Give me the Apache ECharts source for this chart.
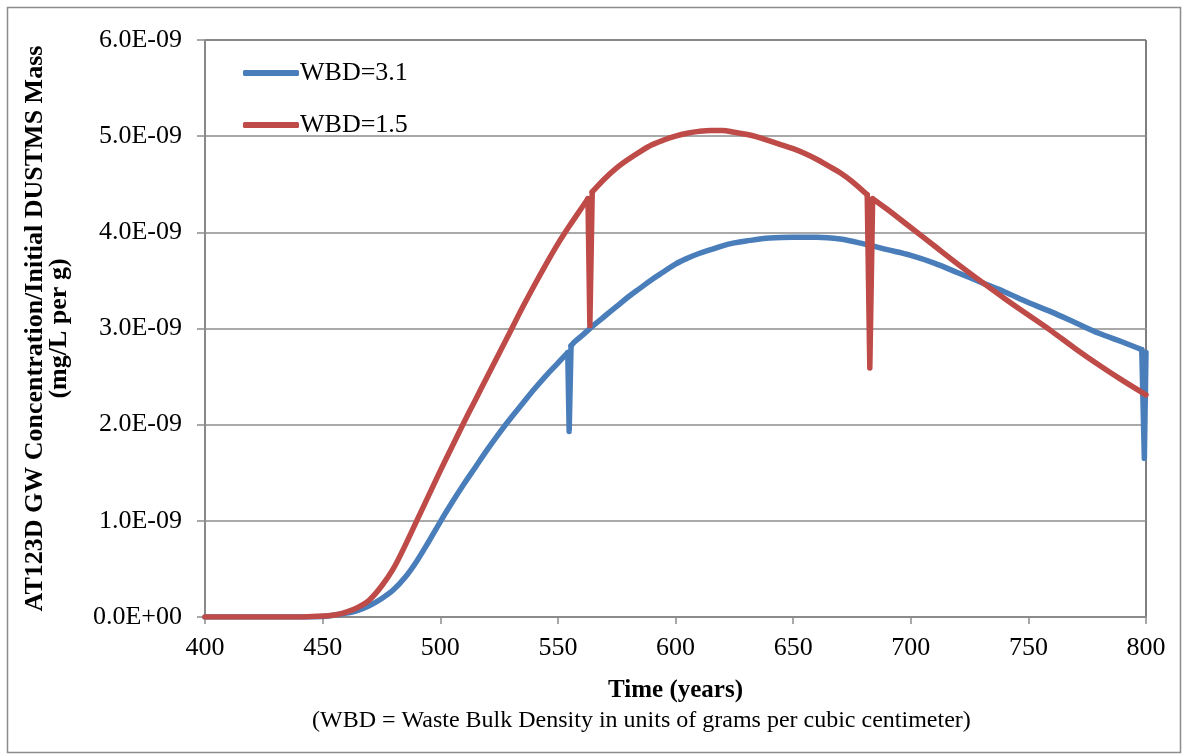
<!DOCTYPE html>
<html><head><meta charset="utf-8">
<script src="https://cdn.jsdelivr.net/npm/echarts@6/dist/echarts.min.js"></script>
<style>html,body{margin:0;padding:0;background:#fff}#c{width:1183px;height:755px}</style>
</head><body><div id="c"></div>
<script>
// values in units of 1E-09 mg/L per g
const blueX = [400,440,450,455,460,465,470,475,480,485,490,495,500,505,510,515,520,525,530,535,540,545,550,554.2,554.8,555.6,557,560,565,570,575,580,585,590,595,600,605,610,615,620,625,630,640,650,660,670,680,690,700,710,720,730,740,750,760,770,780,790,798.2,799.3,800];
const blueY = [0,0,0.005,0.02,0.04,0.07,0.12,0.19,0.28,0.41,0.58,0.78,0.99,1.19,1.38,1.56,1.74,1.91,2.07,2.22,2.37,2.51,2.64,2.75,1.93,2.82,2.86,2.92,3.03,3.13,3.23,3.33,3.42,3.51,3.59,3.67,3.73,3.78,3.82,3.86,3.89,3.91,3.94,3.95,3.95,3.93,3.88,3.82,3.76,3.68,3.58,3.48,3.38,3.27,3.17,3.06,2.95,2.86,2.78,1.65,2.75];
const redX = [400,440,450,455,460,465,470,475,480,485,490,495,500,505,510,515,520,525,530,535,540,545,550,555,560,562.8,563.6,564.6,570,575,580,585,590,595,600,605,610,615,620,625,630,635,640,645,650,655,660,665,670,675,681.5,682.6,683.8,690,700,710,720,731,740,750,760,770,780,790,800];
const redY = [0,0,0.01,0.02,0.05,0.1,0.18,0.32,0.5,0.74,1.0,1.26,1.52,1.77,2.02,2.26,2.5,2.74,2.98,3.22,3.45,3.67,3.88,4.07,4.25,4.35,3.03,4.42,4.56,4.67,4.76,4.84,4.91,4.96,5.0,5.03,5.05,5.06,5.06,5.04,5.02,4.99,4.95,4.91,4.87,4.82,4.76,4.69,4.62,4.53,4.39,2.59,4.35,4.24,4.05,3.86,3.67,3.47,3.31,3.14,2.97,2.79,2.62,2.46,2.31];
const seriesNames = ['WBD=3.1','WBD=1.5'];
const seriesColors = ['#4a7ebb', '#be4b48'];
const xTicks = [400,450,500,550,600,650,700,750,800];
const yTickLabels = ['0.0E+00','1.0E-09','2.0E-09','3.0E-09','4.0E-09','5.0E-09','6.0E-09'];
const xTitle = 'Time (years)';
const yTitle = 'AT123D GW Concentration/Initial DUSTMS Mass\n(mg/L per g)';
const footnote = '(WBD = Waste Bulk Density in units of grams per cubic centimeter)';

const FONT = '"Liberation Serif", "Times New Roman", serif';

// split a curve into smooth parts and straight (sharp) spike parts
function buildSeries(xs, ys, name, color, z) {
  const pts = xs.map((x, i) => [x, ys[i]]);
  const spikes = [];
  for (let i = 1; i < pts.length; i++) if (pts[i][1] < pts[i-1][1] - 0.5) spikes.push(i);
  const out = [];
  const base = {name, type: 'line', showSymbol: false, symbol: 'none', z,
    lineStyle: {color, width: 5.5, cap: 'round', join: 'round'}, itemStyle: {color}, legendHoverLink: false};
  let start = 0;
  spikes.forEach(b => {
    out.push(Object.assign({}, base, {smooth: 0.35, data: pts.slice(start, b)}));
    out.push(Object.assign({}, base, {smooth: false, data: pts.slice(b - 1, Math.min(b + 2, pts.length))}));
    start = b + 1;
  });
  if (start < pts.length - 1) out.push(Object.assign({}, base, {smooth: 0.35, data: pts.slice(start)}));
  return out;
}

const chart = echarts.init(document.getElementById('c'), null, {renderer: 'canvas'});
chart.setOption({
  animation: false,
  backgroundColor: '#fff',
  textStyle: {fontFamily: FONT},
  grid: {left: 205, right: 37, top: 40, bottom: 138, show: true, borderColor: '#000', borderWidth: 1},
  graphic: [
    {type: 'rect', left: 5, top: 5, shape: {width: 1173, height: 745}, style: {fill: 'none', stroke: '#8c8c8c', lineWidth: 1.5}, silent: true},
    {type: 'text', left: 312, top: 709, style: {text: footnote, font: '24px ' + FONT, fill: '#000'}}
  ],
  legend: {
    left: 238, top: 55, orient: 'vertical', itemWidth: 56, itemHeight: 6, itemGap: 26,
    icon: 'roundRect',
    textStyle: {fontFamily: FONT, fontSize: 26, color: '#000', padding: [0,0,0,-4]},
    data: seriesNames.map((n, i) => ({name: n, itemStyle: {color: seriesColors[i]}}))
  },
  xAxis: {
    type: 'value', min: 400, max: 800, interval: 50,
    name: xTitle, nameLocation: 'middle', nameGap: 61,
    nameTextStyle: {fontFamily: FONT, fontSize: 25, fontWeight: 'bold', color: '#000'},
    axisLine: {lineStyle: {color: '#8c8c8c', width: 1.5}},
    axisTick: {show: true, inside: false, length: 7, lineStyle: {color: '#8c8c8c', width: 1.5}},
    axisLabel: {fontFamily: FONT, fontSize: 26, color: '#000', margin: 18,
      formatter: v => xTicks.includes(v) ? String(v) : ''},
    splitLine: {show: false}
  },
  yAxis: {
    type: 'value', min: 0, max: 6, interval: 1,
    name: yTitle, nameLocation: 'middle', nameGap: 134, nameRotate: 90,
    nameTextStyle: {fontFamily: FONT, fontSize: 26, fontWeight: 'bold', color: '#000', lineHeight: 24, align: 'center'},
    axisLine: {show: true, lineStyle: {color: '#8c8c8c', width: 1.5}},
    axisTick: {show: true, inside: false, length: 8, lineStyle: {color: '#8c8c8c', width: 1.5}},
    axisLabel: {fontFamily: FONT, fontSize: 26, color: '#000', margin: 23,
      formatter: v => yTickLabels[Math.round(v)]},
    splitLine: {show: true, lineStyle: {color: '#8c8c8c', width: 1.5}}
  },
  series: [].concat(
    buildSeries(blueX, blueY, seriesNames[0], seriesColors[0], 2),
    buildSeries(redX, redY, seriesNames[1], seriesColors[1], 3)
  )
});
</script></body></html>
